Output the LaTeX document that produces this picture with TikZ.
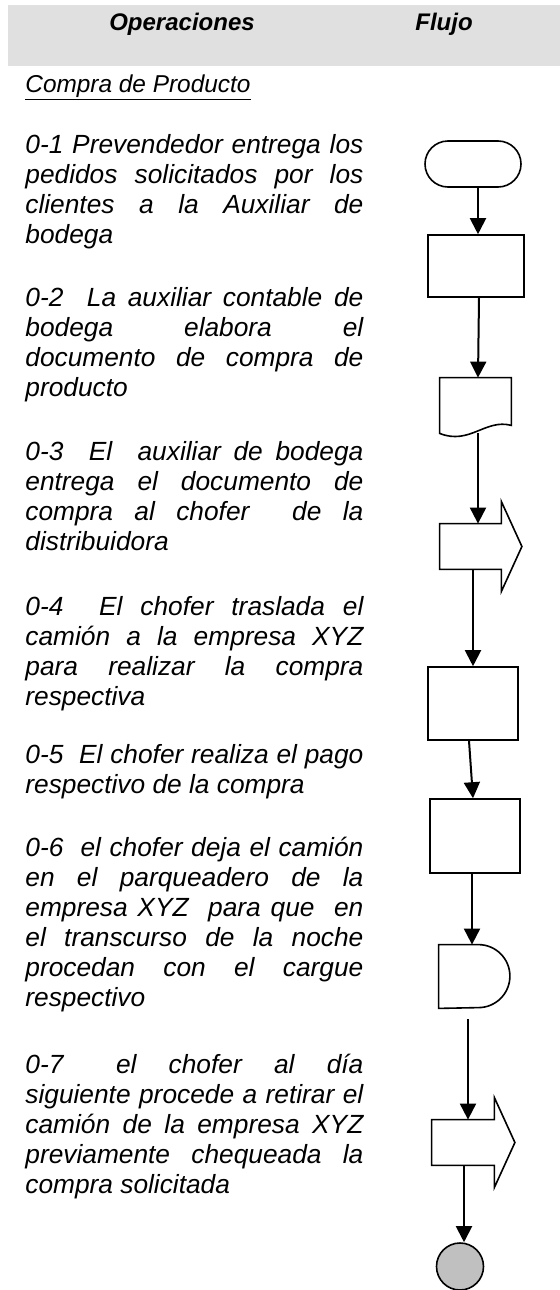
\documentclass[tikz,border=0pt]{standalone}
\usepackage{fontspec}
\setmainfont{Liberation Sans}
\usetikzlibrary{arrows.meta,calc}
\definecolor{gris}{RGB}{224,224,224}
\definecolor{grisfin}{RGB}{192,192,192}
\tolerance=10000
\hbadness=10000
\hyphenpenalty=10000
\exhyphenpenalty=10000

\begin{document}
\begin{tikzpicture}[x=0.5pt,y=-0.5pt,
                     forma/.style={
                                % contorno de los simbolos
                                draw,line width=0.8pt,inner sep=0pt},
                     proceso/.style={forma,rectangle},
                     hueco/.style={rectangle,inner sep=0pt},
                     flecha/.style={line width=1pt,-{Triangle[length=8pt,width=8pt]}},
                     paso/.style={
                                % texto de cada operacion
                                anchor=base west,inner sep=0pt,
                                text width=169pt,align=justify,
                                font=\itshape\fontsize{13.15}{15}\selectfont},
                     titulo/.style={anchor=base,inner sep=0pt,
                                font=\bfseries\itshape\fontsize{12}{14}\selectfont}]
 \useasboundingbox (0,0) rectangle (560,1290);
 % cabecera
 \node (cabecera) [fill=gris,minimum width=276pt,minimum height=30.5pt,inner sep=0pt] at (284,35.5) {};
 \node (oper)  [titulo] at (182,30) {Operaciones};
 \node (flujo) [titulo] at (444,30) {Flujo};
 \node (compra) [anchor=base west,inner sep=0pt,font=\itshape\fontsize{12.2}{15}\selectfont]
       at (25,92) {\underline{Compra de Producto}};
 % operaciones
 \node (p1) [paso] at (25,153) {0-1 Prevendedor entrega los\linebreak pedidos solicitados por los\linebreak clientes a la Auxiliar de\linebreak bodega};
 \node (p2) [paso] at (25,306) {0-2\ \ La auxiliar contable de\linebreak bodega elabora el\linebreak documento de compra de\linebreak producto};
 \node (p3) [paso] at (25,460) {0-3\ \ El\ \ auxiliar de bodega\linebreak entrega el documento de\linebreak compra al chofer\ \ de la\linebreak distribuidora};
 \node (p4) [paso] at (25,615) {0-4\ \ El chofer traslada el\linebreak cami\'on a la empresa XYZ\linebreak para realizar la compra\linebreak respectiva};
 \node (p5) [paso] at (25,763) {0-5\ \ El chofer realiza el pago\linebreak respectivo de la compra};
 \node (p6) [paso] at (25,856) {0-6\ \ el chofer deja el cami\'on\linebreak en el parqueadero de la\linebreak empresa XYZ\ \ para que\ \ en\linebreak el transcurso de la noche\linebreak procedan con el cargue\linebreak respectivo};
 \node (p7) [paso] at (25,1073) {0-7\qquad el chofer al d\'ia\linebreak siguiente procede a retirar el\linebreak cami\'on de la empresa XYZ\linebreak previamente chequeada la\linebreak compra solicitada};
 % flujo
 \node (inicio) [forma,rectangle,rounded corners=11.5pt,minimum width=48pt,minimum height=23pt] at (473,164) {};
 \node (proc1)  [proceso,minimum width=48pt,minimum height=31pt]     at (476,266) {};
 \node (doc)    [hueco,minimum width=35.5pt,minimum height=26pt]     at (475.5,404) {};
 \node (envio1) [hueco,minimum width=30.5pt,minimum height=22.5pt]   at (470.5,546.5) {};
 \node (proc2)  [proceso,minimum width=45pt,minimum height=36.5pt]   at (473,703.5) {};
 \node (proc3)  [proceso,minimum width=45pt,minimum height=37pt]     at (475,836) {};
 \node (espera) [hueco,minimum width=35.5pt,minimum height=31.5pt]   at (474.5,976.5) {};
 \node (envio2) [hueco,minimum width=31pt,minimum height=22.5pt]     at (463,1142.5) {};
 \node (fin)    [forma,circle,fill=grisfin,minimum size=23.5pt]      at (460,1266.5) {};
 % simbolos dibujados a mano
 \draw [forma] (doc.north west) -- (doc.north east) -- ($(doc.south east)+(0,-5)$)
       .. controls +(-26,-7) and +(30,12) .. ($(doc.south west)+(0,3)$) -- cycle;
 \foreach \e in {envio1,envio2}
   \draw [forma] (\e.north west) -- (\e.north east) -- ++(0,-22)
         -- ($(\e.east)+(20.5,0)$) -- ($(\e.south east)+(0,22)$)
         -- (\e.south east) -- (\e.south west) -- cycle;
 \draw [forma] (espera.north west) -- ($(espera.north east)+(-32,0)$)
       arc[start angle=90,end angle=-90,radius=15.75pt] -- (espera.south west) -- cycle;
 % conectores
 \draw [flecha] ([xshift=2.5pt]inicio.south) -- ([xshift=1pt]proc1.north);
 \draw [flecha] ([xshift=1.5pt]proc1.south) -- ([xshift=1.25pt]doc.north);
 \draw [flecha] ($(doc.south)+(2.5,3)$) -- ([xshift=3.75pt]envio1.north);
 \draw [flecha] ([xshift=1.25pt]envio1.south) -- (proc2.north);
 \draw [flecha] ([xshift=-2pt]proc2.south) -- ([xshift=-1pt]proc3.north);
 \draw [flecha] ([xshift=-1.5pt]proc3.south) -- ([xshift=-1.25pt]espera.north);
 \draw [flecha] ($(espera.south)+(-6.5,11)$) -- ([xshift=2.5pt]envio2.north);
 \draw [flecha] ([xshift=0.5pt]envio2.south) -- ([xshift=2pt]fin.north);
\end{tikzpicture}
\end{document}
